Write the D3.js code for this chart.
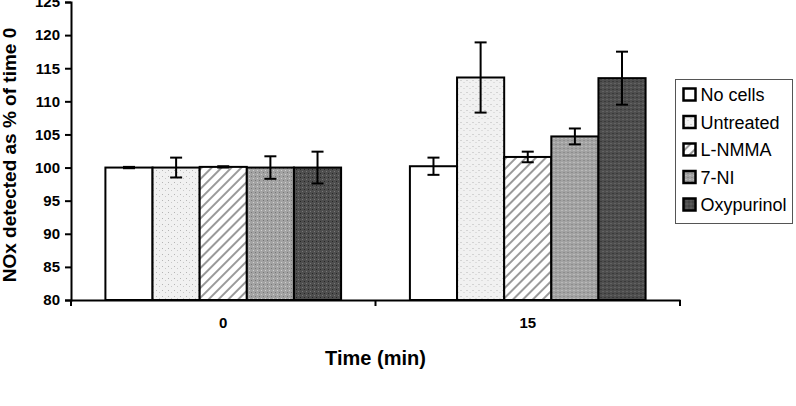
<!DOCTYPE html>
<html>
<head>
<meta charset="utf-8">
<script src="https://cdn.jsdelivr.net/npm/d3@7"></script>
<style>
  body { margin: 0; background: #fff; }
  svg { display: block; font-family: "Liberation Sans", Arial, sans-serif; }
</style>
</head>
<body>
<div id="chart"></div>
<script>
const times = ["0", "15"];
const series = ["No cells", "Untreated", "L-NMMA", "7-NI", "Oxypurinol"];
const values = {
  "0":  [100.0, 100.0, 100.1, 100.0, 100.0],
  "15": [100.2, 113.6, 101.6, 104.7, 113.5]
};
const errors = {
  "0":  [0.1, 1.5, 0.1, 1.7, 2.4],
  "15": [1.3, 5.3, 0.8, 1.2, 4.0]
};
const yTicks = [80, 85, 90, 95, 100, 105, 110, 115, 120, 125];

const width = 796, height = 406;
const plotLeft = 71, plotRight = 680, plotTop = 2, plotBottom = 300;

const svg = d3.select("#chart").append("svg")
  .attr("width", width)
  .attr("height", height);

const defs = svg.append("defs");

// speckled light gray for Untreated
const speck = defs.append("pattern").attr("id", "speck")
  .attr("patternUnits", "userSpaceOnUse").attr("width", 6).attr("height", 6);
speck.append("rect").attr("width", 6).attr("height", 6).attr("fill", "#f1f1f1");
speck.append("rect").attr("x", 1).attr("y", 2).attr("width", 1).attr("height", 1).attr("fill", "#b5b5b5");
speck.append("rect").attr("x", 4).attr("y", 4).attr("width", 1).attr("height", 1).attr("fill", "#c8c8c8");

// diagonal hatch for L-NMMA
const hatch = defs.append("pattern").attr("id", "hatch")
  .attr("patternUnits", "userSpaceOnUse").attr("width", 7).attr("height", 7)
  .attr("patternTransform", "rotate(45)");
hatch.append("rect").attr("width", 7).attr("height", 7).attr("fill", "#fff");
hatch.append("rect").attr("width", 2).attr("height", 7).attr("fill", "#9a9a9a");

// mottled gray for 7-NI
const grey = defs.append("pattern").attr("id", "grey")
  .attr("patternUnits", "userSpaceOnUse").attr("width", 4).attr("height", 4);
grey.append("rect").attr("width", 4).attr("height", 4).attr("fill", "#a3a3a3");
grey.append("rect").attr("x", 0).attr("y", 0).attr("width", 1).attr("height", 1).attr("fill", "#777");
grey.append("rect").attr("x", 2).attr("y", 2).attr("width", 1).attr("height", 1).attr("fill", "#cfcfcf");

// dark for Oxypurinol
const dark = defs.append("pattern").attr("id", "dark")
  .attr("patternUnits", "userSpaceOnUse").attr("width", 4).attr("height", 4);
dark.append("rect").attr("width", 4).attr("height", 4).attr("fill", "#4e4e4e");
dark.append("rect").attr("x", 1).attr("y", 1).attr("width", 1).attr("height", 1).attr("fill", "#262626");
dark.append("rect").attr("x", 3).attr("y", 3).attr("width", 1).attr("height", 1).attr("fill", "#777");

const fills = ["#ffffff", "url(#speck)", "url(#hatch)", "url(#grey)", "url(#dark)"];

const x0 = d3.scaleBand().domain(times).range([plotLeft, plotRight]);
const x1 = d3.scaleBand().domain(series).range([0, x0.bandwidth()]).paddingOuter(0.73);
const y = d3.scaleLinear().domain([80, 125]).range([plotBottom, plotTop]);

// bars
const groups = svg.append("g").selectAll("g")
  .data(times).join("g")
  .attr("transform", t => `translate(${x0(t)},0)`);

groups.selectAll("rect")
  .data(t => series.map((s, i) => ({ s, i, v: values[t][i], e: errors[t][i] })))
  .join("rect")
  .attr("x", d => x1(d.s))
  .attr("y", d => y(d.v))
  .attr("width", x1.bandwidth())
  .attr("height", d => y(80) - y(d.v))
  .attr("fill", d => fills[d.i])
  .attr("stroke", "#000")
  .attr("stroke-width", 2);

// error bars
const eb = groups.selectAll("g.err")
  .data(t => series.map((s, i) => ({ s, v: values[t][i], e: errors[t][i] })))
  .join("g").attr("class", "err")
  .attr("stroke", "#000").attr("stroke-width", 2);
eb.append("line")
  .attr("x1", d => x1(d.s) + x1.bandwidth() / 2)
  .attr("x2", d => x1(d.s) + x1.bandwidth() / 2)
  .attr("y1", d => y(d.v - d.e))
  .attr("y2", d => y(d.v + d.e));
eb.selectAll("line.cap")
  .data(d => [d.v - d.e, d.v + d.e].map(v => ({ s: d.s, v })))
  .join("line").attr("class", "cap")
  .attr("x1", d => x1(d.s) + x1.bandwidth() / 2 - 6)
  .attr("x2", d => x1(d.s) + x1.bandwidth() / 2 + 6)
  .attr("y1", d => y(d.v))
  .attr("y2", d => y(d.v));

// y axis
const yAxis = svg.append("g")
  .attr("transform", `translate(${plotLeft},0)`)
  .call(d3.axisLeft(y).tickValues(yTicks).tickSize(6).tickPadding(5));
yAxis.select(".domain").attr("stroke-width", 2);
yAxis.selectAll(".tick line").attr("stroke-width", 2);
yAxis.selectAll("text").attr("font-size", 15).attr("font-weight", "bold")
  .attr("font-family", "Liberation Sans, Arial, sans-serif").attr("fill", "#000");

// x axis
const xAxis = svg.append("g")
  .attr("transform", `translate(0,${plotBottom})`)
  .call(d3.axisBottom(x0).tickSize(0).tickPadding(17));
xAxis.select(".domain").attr("stroke-width", 2);
xAxis.selectAll("text").attr("font-size", 15).attr("font-weight", "bold")
  .attr("font-family", "Liberation Sans, Arial, sans-serif").attr("fill", "#000");
svg.append("g").selectAll("line")
  .data([plotLeft, ...times.slice(1).map(t => x0(t)), plotRight])
  .join("line")
  .attr("x1", d => d).attr("x2", d => d)
  .attr("y1", plotBottom).attr("y2", plotBottom + 6)
  .attr("stroke", "#000").attr("stroke-width", 2);

// axis titles
svg.append("text")
  .attr("transform", `translate(16,155) rotate(-90)`)
  .attr("text-anchor", "middle")
  .attr("font-size", 19).attr("font-weight", "bold")
  .text("NOx detected as % of time 0");

svg.append("text")
  .attr("x", (plotLeft + plotRight) / 2).attr("y", 365)
  .attr("text-anchor", "middle")
  .attr("font-size", 20).attr("font-weight", "bold")
  .text("Time (min)");

// legend
const legend = svg.append("g").attr("transform", "translate(675.5,79.5)");
legend.append("rect")
  .attr("width", 117).attr("height", 144)
  .attr("fill", "#fff").attr("stroke", "#555").attr("stroke-width", 1);
const items = legend.selectAll("g.item")
  .data(series).join("g").attr("class", "item")
  .attr("transform", (d, i) => `translate(8,${15 + i * 27.5})`);
items.append("rect")
  .attr("x", 0).attr("y", -6).attr("width", 12).attr("height", 12)
  .attr("fill", (d, i) => fills[i])
  .attr("stroke", "#000").attr("stroke-width", 2.5);
items.append("text")
  .attr("x", 17).attr("y", 6.5)
  .attr("font-size", 18)
  .text(d => d);
</script>
</body>
</html>
